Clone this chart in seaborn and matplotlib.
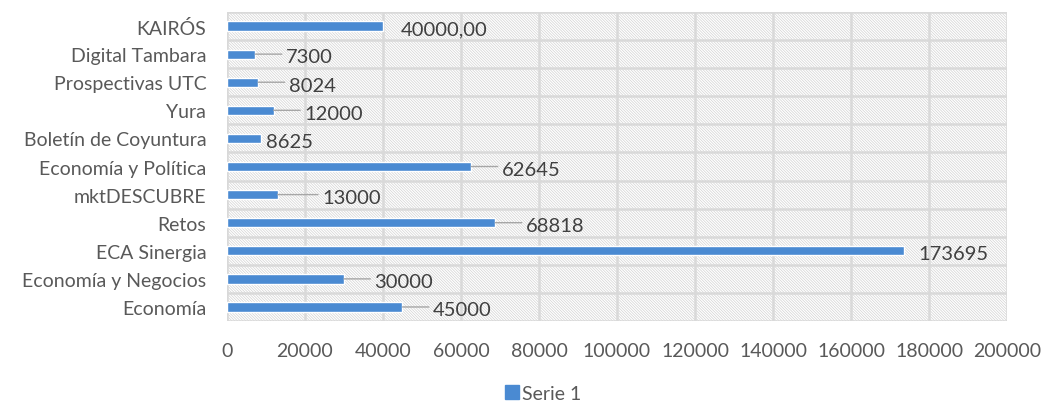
import matplotlib
matplotlib.use("Agg")
import matplotlib.pyplot as plt
from matplotlib.patches import Rectangle
from matplotlib.lines import Line2D
import seaborn as sns
import pandas as pd

categories = ["KAIRÓS", "Digital Tambara", "Prospectivas UTC", "Yura",
              "Boletín de Coyuntura", "Economía y Política", "mktDESCUBRE",
              "Retos", "ECA Sinergia", "Economía y Negocios", "Economía"]
values = [40000, 7300, 8024, 12000, 8625, 62645, 13000, 68818, 173695, 30000, 45000]
value_labels = ["40000,00", "7300", "8024", "12000", "8625", "62645", "13000",
                "68818", "173695", "30000", "45000"]
x_ticks = [0, 20000, 40000, 60000, 80000, 100000, 120000, 140000, 160000, 180000, 200000]
series_name = "Serie 1"

sns.set_theme(style="white")
plt.rcParams["font.family"] = ["Lato", "DejaVu Sans"]
plt.rcParams["hatch.linewidth"] = 0.5

TEXT = "#595959"
GRID = "#D9D9D9"
BAR = "#4A8AD2"

df = pd.DataFrame({"cat": categories, "val": values})

fig = plt.figure(figsize=(10.44, 4.10), dpi=100)
ax = fig.add_axes([0.2174, 0.2146, 0.7472, 0.7537])

sns.barplot(data=df, y="cat", x="val", orient="h", color=BAR, width=0.33,
            saturation=1, ax=ax, zorder=3)

ax.add_patch(Rectangle((0, 0), 1, 1, transform=ax.transAxes, facecolor="white",
                       edgecolor="#D2D2D2", hatch="\\" * 12, lw=0, zorder=0))

ax.set_xlim(0, 200000)
ax.set_ylim(len(categories) - 0.5, -0.5)
ax.set_xticks(x_ticks)
ax.set_xticklabels([str(t) for t in x_ticks])
ax.set_xlabel("")
ax.set_ylabel("")

for t in x_ticks:
    ax.axvline(t, color=GRID, lw=1.8, zorder=1)
for i in range(len(categories) + 1):
    ax.axhline(i - 0.5, color=GRID, lw=1.8, zorder=1)

for s in ax.spines.values():
    s.set_visible(False)

ax.tick_params(axis="both", length=0, colors=TEXT, labelsize=14)
ax.tick_params(axis="y", pad=15)
ax.tick_params(axis="x", pad=15)

offsets = [13, 22, 22, 22, 4, 22, 32, 22, 10, 22, 22]
for i, (v, lab, off) in enumerate(zip(values, value_labels, offsets)):
    ax.annotate(lab, xy=(v, i), xytext=(off, -2), textcoords="offset points",
                ha="left", va="center", fontsize=14.5, color="#404040", zorder=5)
    if off > 14:
        ax.annotate("", xy=(v, i), xytext=(off - 3, 0), textcoords="offset points",
                    arrowprops=dict(arrowstyle="-", color="#A6A6A6", lw=1,
                                    shrinkA=0, shrinkB=0), zorder=4)

handle = Line2D([], [], marker="s", color=BAR, lw=0, markersize=10)
fig.legend([handle], [series_name], loc="lower center", bbox_to_anchor=(0.52, -0.025),
           frameon=False, fontsize=14, labelcolor=TEXT, handletextpad=0.1,
           handlelength=0.8)

fig.savefig("out.png", dpi=100)
